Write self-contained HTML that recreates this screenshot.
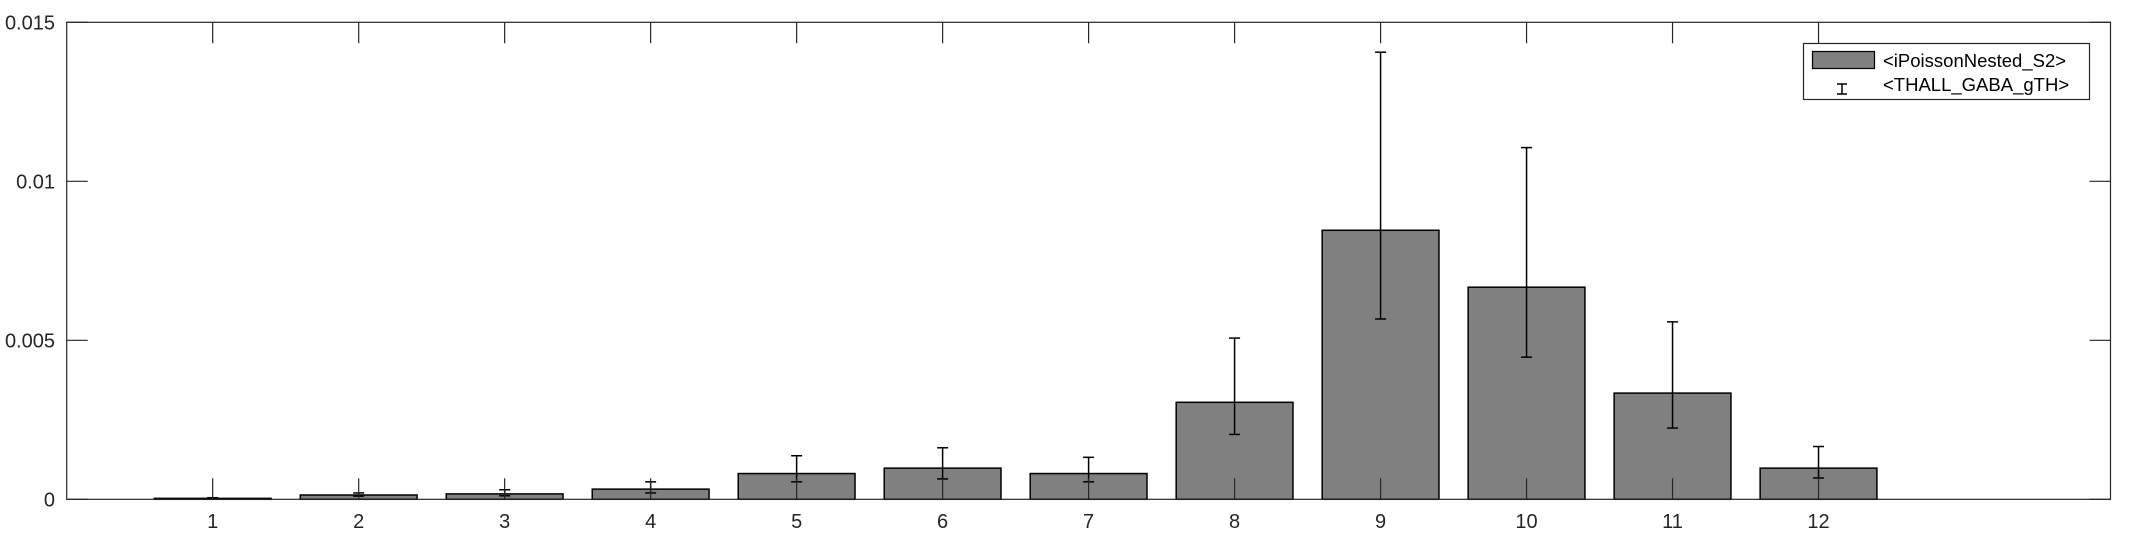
<!DOCTYPE html>
<html><head><meta charset="utf-8"><style>
html,body{margin:0;padding:0;background:#fff;}
svg{display:block;font-family:"Liberation Sans",sans-serif;}
</style></head><body>
<svg id="chart" width="2133" height="533" viewBox="0 0 2133 533">
<rect x="0" y="0" width="2133" height="533" fill="#fff"/>
<g id="bars"></g>
<g id="errs"></g>
<g id="axes"></g>
<g>
<rect x="1803.5" y="43.5" width="286" height="56" fill="#fff" stroke="#262626" stroke-width="1.2"/>
<rect x="1812.5" y="51.5" width="62" height="17" fill="#808080" stroke="#000" stroke-width="1.2"/>
<text x="1883" y="67" font-size="18.5" fill="#000">&lt;iPoissonNested_S2&gt;</text>
<g stroke="#000" stroke-width="1.5">
<line x1="1842" y1="84" x2="1842" y2="94"/><line x1="1837" y1="84" x2="1847" y2="84"/><line x1="1837" y1="94" x2="1847" y2="94"/></g>
<text x="1883" y="91" font-size="18.5" fill="#000">&lt;THALL_GABA_gTH&gt;</text>
</g>
</svg>
<script>
const categories = ["1","2","3","4","5","6","7","8","9","10","11","12"];
const values = [0.00003,0.000135,0.00017,0.00032,0.00081,0.00098,0.00081,0.00305,0.00846,0.00667,0.00334,0.00098];
const errUpper = [0.00005,0.0002,0.0003,0.00055,0.00137,0.00162,0.00132,0.00507,0.01406,0.01106,0.00558,0.00166];
const errLower = [0.00001,0.0001,0.00011,0.0002,0.00055,0.00064,0.00055,0.00204,0.00567,0.00447,0.00224,0.00067];
const yTicks = [0,0.005,0.01,0.015];
const yTickLabels = ["0","0.005","0.01","0.015"];

const NS="http://www.w3.org/2000/svg";
const L=66.7,R=2110.5,T=22.3,B=499.3;
const xMin=0,xMax=categories.length+2,yMax=0.015;
function xs(v){return L+(v-xMin)/(xMax-xMin)*(R-L);}
function ys(v){return B-v/yMax*(B-T);}
function mk(tag,attrs,parent){const e=document.createElementNS(NS,tag);for(const k in attrs)e.setAttribute(k,attrs[k]);parent.appendChild(e);return e;}
const gb=document.getElementById('bars'),ge=document.getElementById('errs'),ga=document.getElementById('axes');
const bw=0.8*(xs(1)-xs(0));
categories.forEach((c,i)=>{
  const cx=xs(i+1);
  const r=mk('rect',{x:cx-bw/2,y:ys(values[i]),width:bw,height:B-ys(values[i]),fill:'#808080',stroke:'#000','stroke-width':1.5},gb);
  
  
  const g=mk('g',{stroke:'#000','stroke-width':1.5},ge);
  
  
  mk('line',{x1:cx,x2:cx,y1:ys(errUpper[i]),y2:ys(errLower[i])},g);
  mk('line',{x1:cx-5.5,x2:cx+5.5,y1:ys(errUpper[i]),y2:ys(errUpper[i])},g);
  mk('line',{x1:cx-5.5,x2:cx+5.5,y1:ys(errLower[i]),y2:ys(errLower[i])},g);
});
const box=mk('rect',{x:L,y:T,width:R-L,height:B-T,fill:'none',stroke:'#262626','stroke-width':1.2},ga);


categories.forEach((c,i)=>{
  const cx=xs(i+1);
  mk('line',{x1:cx,x2:cx,y1:B,y2:B-21,stroke:'#262626','stroke-width':1.2},ga);
  mk('line',{x1:cx,x2:cx,y1:T,y2:T+21,stroke:'#262626','stroke-width':1.2},ga);
  const t=mk('text',{x:cx,y:528,'font-size':20,fill:'#262626','text-anchor':'middle'},ga);
  t.textContent=c;
  
  
});
yTicks.forEach((v,i)=>{
  const y=ys(v);
  mk('line',{x1:L,x2:L+21,y1:y,y2:y,stroke:'#262626','stroke-width':1.2},ga);
  mk('line',{x1:R,x2:R-21,y1:y,y2:y,stroke:'#262626','stroke-width':1.2},ga);
  const t=mk('text',{x:55,y:y+7,'font-size':20,fill:'#262626','text-anchor':'end'},ga);
  t.textContent=yTickLabels[i];
  
  
});
</script>
</body></html>
